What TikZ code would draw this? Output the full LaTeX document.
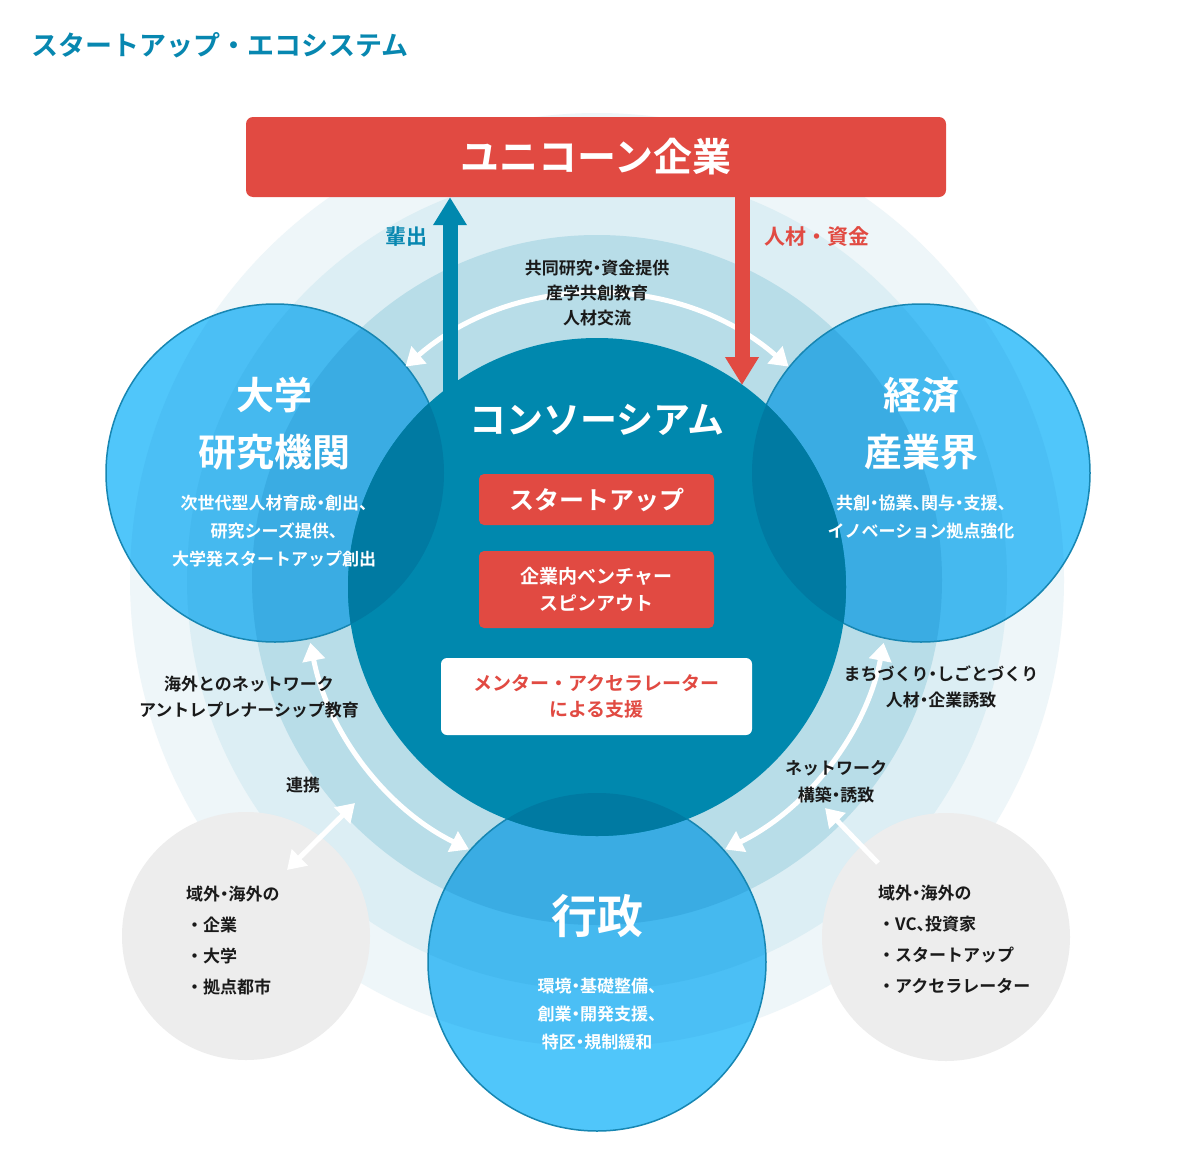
\documentclass[tikz,border=0pt]{standalone}
\usepackage{fontspec}
\newfontfamily\jp{Noto Sans CJK JP Bold}
\usetikzlibrary{arrows.meta}
\definecolor{tblue}{HTML}{0787B0}
\definecolor{ured}{HTML}{E14A42}
\definecolor{cons}{HTML}{0088AE}
\definecolor{lens}{HTML}{007AA2}
\definecolor{ringa}{HTML}{EEF6F9}
\definecolor{ringb}{HTML}{DCEEF4}
\definecolor{ringc}{HTML}{B8DDE8}
\definecolor{bl0}{HTML}{50C6FA}
\definecolor{bla}{HTML}{4BBFF5}
\definecolor{blb}{HTML}{45B9EF}
\definecolor{blc}{HTML}{3AACE3}
\definecolor{bedge}{HTML}{1786B2}
\definecolor{greyc}{HTML}{EDEDED}
\definecolor{ink}{HTML}{1A1A1A}
\newcommand\nd{{\kern-.25em・\kern-.25em}}
\newcommand\tn{、\kern-.5em}
\newcommand\mybluedisc[1]{%
  \fill[bl0] (#1) circle[radius=169];
  \begin{scope}
    \clip (#1) circle[radius=169];
    \fill[bla] (rc) circle[radius=467];
    \fill[blb] (rc) circle[radius=410];
    \fill[blc] (rc) circle[radius=345];
  \end{scope}}
\begin{document}
\begin{tikzpicture}[x=1pt,y=-1pt,
  bdisc/.style={circle, draw=bedge, line width=1.5pt, minimum size=338pt, inner sep=0pt},
  gdisc/.style={circle, fill=greyc, minimum size=248pt, inner sep=0pt},
  rbox/.style={rectangle, rounded corners=5pt, fill=ured, text=white, inner sep=0pt, align=center},
  wbox/.style={rectangle, rounded corners=6pt, fill=white, text=ured, inner sep=0pt, align=center},
  lab/.style={text=ink, inner sep=0pt, align=center, font=\jp\fontsize{17}{25}\selectfont},
  wt/.style={text=white, inner sep=0pt, align=center, font=\jp\fontsize{17}{28}\selectfont},
  big/.style={text=white, inner sep=0pt, align=center, font=\jp\fontsize{38}{57}\selectfont},
  warc/.style={white, line width=5pt, {Triangle[width=22pt,length=18pt]}-{Triangle[width=22pt,length=18pt]}},
  wone/.style={white, line width=5pt, -{Triangle[width=22pt,length=18pt]}},
]
\useasboundingbox (0,0) rectangle (1200,1159);
\fill[white] (0,0) rectangle (1200,1159);
% centres
\coordinate (rc) at (597,580);
\coordinate (cc) at (597,587);
\coordinate (pa) at (275,473);
\coordinate (pb) at (921,473);
\coordinate (pc) at (597,962);
% rings
\fill[ringa] (rc) circle[radius=467];
\fill[ringb] (rc) circle[radius=410];
\fill[ringc] (rc) circle[radius=345];
% grey circles
\node[gdisc] (gl) at (246,936) {};
\node[gdisc] (gr) at (946,937) {};
% blue discs
\mybluedisc{pa}
\mybluedisc{pb}
\mybluedisc{pc}
\node[bdisc] (univ) at (pa) {};
\node[bdisc] (econ) at (pb) {};
\node[bdisc] (gov) at (pc) {};
% white curved arrows
\coordinate (ta) at ([shift={(-131:292)}]cc);
\coordinate (la) at ([shift={(169:292)}]cc);
\coordinate (ra) at ([shift={(11:292)}]cc);
\draw[warc] (ta) arc[start angle=-131, end angle=-49, radius=292];
\draw[warc] (la) arc[start angle=169, end angle=116, radius=292];
\draw[warc] (ra) arc[start angle=11, end angle=64, radius=292];
% red box (node only for reference; drawn later too)
\path (596,157) node[minimum width=700pt, minimum height=80pt, inner sep=0pt] (unicorn) {};
% blue arrow
\coordinate (bs) at (450,400);
\draw[cons, line width=15pt, -{Triangle[width=32pt,length=28pt]}] (bs) -- (bs |- unicorn.south);
% consortium
\node[circle, fill=cons, minimum size=498pt, inner sep=0pt] (cons) at (cc) {};
\begin{scope}
  \clip (cc) circle[radius=249];
  \fill[lens] (pa) circle[radius=169];
  \fill[lens] (pb) circle[radius=169];
  \fill[lens] (pc) circle[radius=169];
\end{scope}
% red arrow
\coordinate (rt) at (742,385);
\draw[ured, line width=15pt, -{Triangle[width=32pt,length=28pt]}] (rt |- unicorn.south) -- (rt);
% red unicorn box
\node[rbox, rounded corners=7pt, minimum width=700pt, minimum height=80pt,
      font=\jp\fontsize{39}{39}\selectfont] (unicornbox) at (596,157) {ユニコーン企業};
% small straight arrows
\coordinate (lk1) at (287,870);
\coordinate (lk2) at (355,803);
\draw[warc] (lk1) -- (lk2);
\coordinate (rk1) at (878,863);
\coordinate (rk2) at (825,808);
\draw[wone] (rk1) -- (rk2);
% consortium contents
\node[text=white, inner sep=0pt, font=\jp\fontsize{37}{37}\selectfont] (constitle) at (597,420) {コンソーシアム};
\node[rbox, minimum width=235pt, minimum height=51pt, font=\jp\fontsize{25}{25}\selectfont] (sa) at (596.5,499.5) {スタートアップ};
\node[rbox, minimum width=235pt, minimum height=77pt, font=\jp\fontsize{19}{27}\selectfont] (cv) at (596.5,589.5) {企業内ベンチャー\\スピンアウト};
\node[wbox, minimum width=311pt, minimum height=77pt, font=\jp\fontsize{19}{26}\selectfont] (mb) at (596.5,696.5) {メンター・アクセラレーター\\による支援};
% circle texts
\node[big] (univt) at (274,423.5) {大学\\研究機関};
\node[wt] (univd) at (274,531) {次世代型人材育成\nd 創出\tn\\研究シーズ提供\tn\\大学発スタートアップ創出};
\node[big] (econt) at (921,423.5) {経済\\産業界};
\node[wt] (econd) at (921,517.5) {共創\nd 協業\tn 関与\nd 支援\tn\\イノベーション拠点強化};
\node[big, font=\jp\fontsize{46}{46}\selectfont] (govt) at (597,916) {行政};
\node[wt] (govd) at (597,1014) {環境\nd 基礎整備\tn\\創業\nd 開発支援\tn\\特区\nd 規制緩和};
% labels
\node[text=tblue, inner sep=0pt, font=\jp\fontsize{21}{21}\selectfont] (l0) at (406,237) {輩出};
\node[text=ured, inner sep=0pt, font=\jp\fontsize{21}{21}\selectfont] (l00) at (817,237) {人材・資金};
\node[lab] (l1) at (597,293) {共同研究\nd 資金提供\\産学共創教育\\人材交流};
\node[lab, font=\jp\fontsize{17}{26}\selectfont] (l2) at (249,697) {海外とのネットワーク\\アントレプレナーシップ教育};
\node[lab] (l3) at (303,785) {連携};
\node[lab, font=\jp\fontsize{17}{26}\selectfont] (l4) at (941,687) {まちづくり\nd しごとづくり\\人材\nd 企業誘致};
\node[lab, font=\jp\fontsize{17}{27}\selectfont] (l5) at (836,781.5) {ネットワーク\\構築\nd 誘致};
\node[lab, align=left, anchor=west, font=\jp\fontsize{17}{31}\selectfont] (gtl) at (186,940.5) {域外\nd 海外の\\・企業\\・大学\\・拠点都市};
\node[lab, align=left, anchor=west, font=\jp\fontsize{17}{31}\selectfont] (gtr) at (878,939.5) {域外\nd 海外の\\・VC\tn 投資家\\・スタートアップ\\・アクセラレーター};
% title
\node[text=tblue, inner sep=0pt, anchor=west, font=\jp\fontsize{27}{27}\selectfont] (title) at (31,45) {スタートアップ・エコシステム};
\end{tikzpicture}
\end{document}
